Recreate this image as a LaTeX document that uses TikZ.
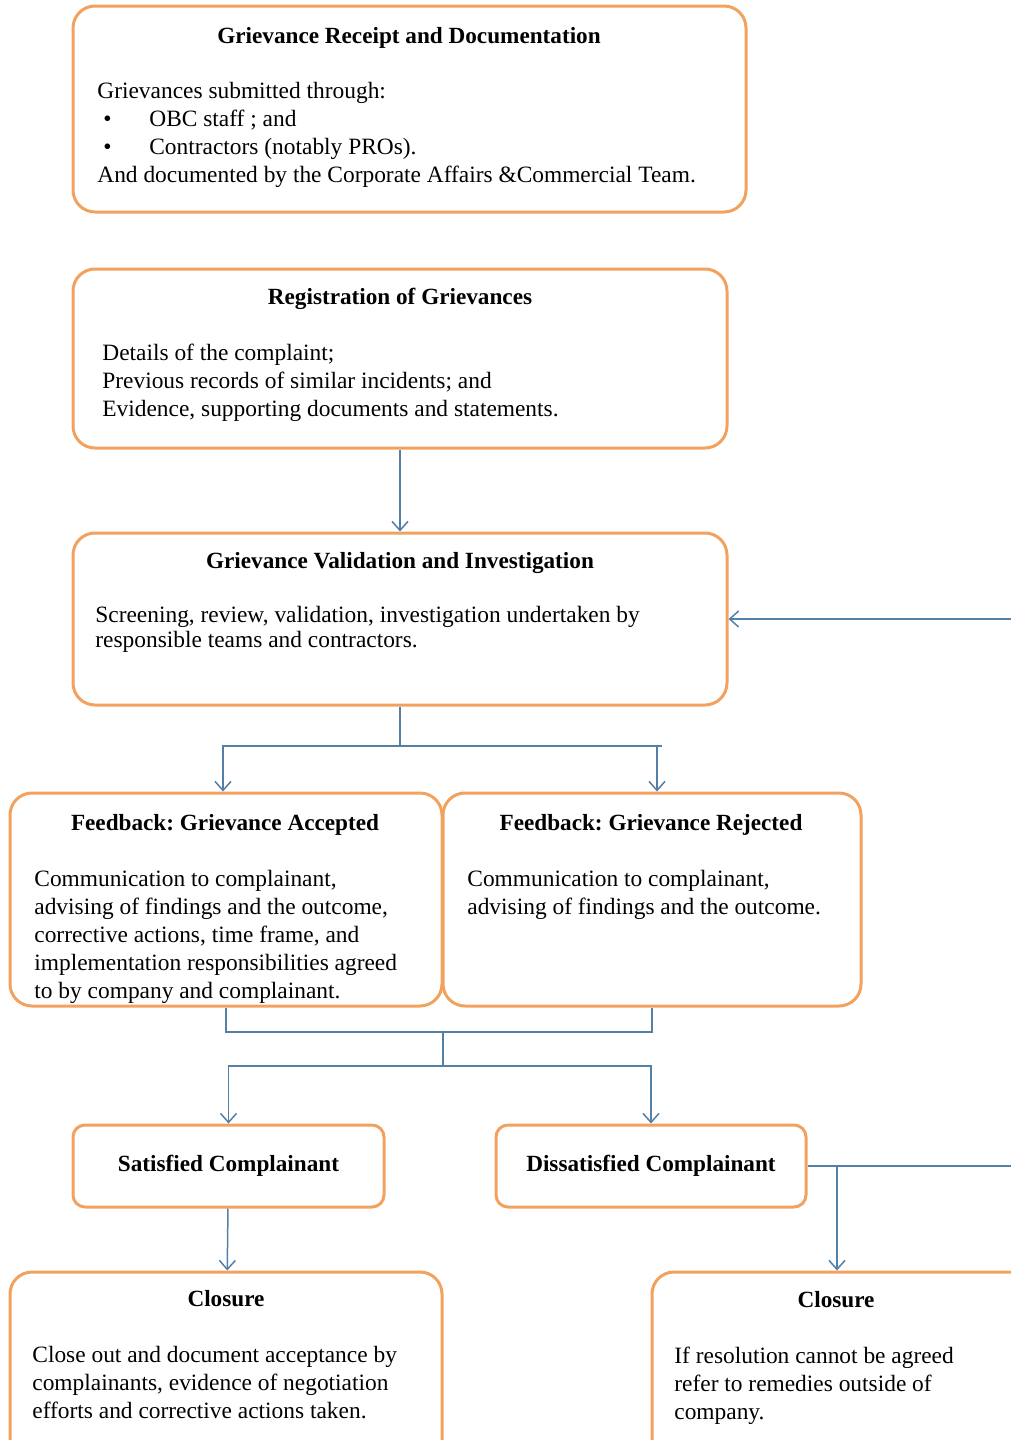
\documentclass[tikz,border=0pt]{standalone}
\usepackage{fontspec}
\setmainfont{Liberation Serif}
\usepackage{tikz}
\usetikzlibrary{arrows.meta, calc, positioning}
\definecolor{boxorange}{RGB}{242,162,94}
\definecolor{linkblue}{RGB}{84,128,168}
\tikzset{%
    box/.style={%
        rectangle,
        draw=boxorange,
        line width=1.5pt,
        rounded corners=11pt,
        inner sep=0pt,
    },
    smallbox/.style={%
        box,
        rounded corners=6pt,
        font=\fontsize{11.6}{14}\selectfont\bfseries,
    },
    title/.style={%
        anchor=base,
        inner sep=0pt,
        font=\fontsize{11.6}{14}\selectfont\bfseries,
    },
    body/.style={%
        % placed at the baseline of the last line
        anchor=base west,
        align=left,
        inner sep=0pt,
        font=\fontsize{11.7}{14}\selectfont,
    },
    link/.style={%
        draw=linkblue,
        line width=0.75pt,
    },
    edge/.style={%
        link,
        ->,
        >={Straight Barb[length=4.5pt, width=8pt]},
    },
}
\newcommand{\bulletitem}[1]{\hspace*{3pt}\makebox[23pt][l]{\textbullet}#1}
\frenchspacing

\begin{document}
\begin{tikzpicture}[x=0.5pt, y=-0.5pt]
	\useasboundingbox (0,0) rectangle (1011,1440);
	\clip (0,0) rectangle (1011,1440);

	% boxes
	\node [box, minimum width=336.5pt, minimum height=103pt] at (409.5,109) (receipt) {};
	\node [box, minimum width=327pt, minimum height=89.5pt] at (400,358.5) (registration) {};
	\node [box, minimum width=327pt, minimum height=86pt] at (400,619) (validation) {};
	\node [box, minimum width=216pt, minimum height=106.5pt] at (226,899.5) (accepted) {};
	\node [box, minimum width=209pt, minimum height=106.5pt] at (652,899.5) (rejected) {};
	\node [smallbox, minimum width=155.5pt, minimum height=41pt] at (228.5,1166) (satisfied) {Satisfied Complainant};
	\node [smallbox, minimum width=155pt, minimum height=41pt] at (651,1166) (dissatisfied) {Dissatisfied Complainant};
	\node [box, minimum width=216pt, minimum height=99pt] at (226,1371) (closure_ok) {};
	\node [box, minimum width=194pt, minimum height=99pt] at (846,1371) (closure_out) {};

	% texts
	\node [title] at (409,43) (receipt_title) {Grievance Receipt and Documentation};
	\node [body] at (97,182) (receipt_text) {Grievances submitted through:\\
		\bulletitem{OBC staff ; and}\\
		\bulletitem{Contractors (notably PROs).}\\
		And documented by the Corporate Affairs \&Commercial Team.};

	\node [title] at (400,304) (registration_title) {Registration of Grievances};
	\node [body] at (102,416) (registration_text) {Details of the complaint;\\
		Previous records of similar incidents; and\\
		Evidence, supporting documents and statements.};

	\node [title] at (400,568) (validation_title) {Grievance Validation and Investigation};
	\node [body, font=\fontsize{11.7}{12.5}\selectfont] at (95,647) (validation_text) {Screening, review, validation, investigation undertaken by\\
		responsible teams and contractors.};

	\node [title] at (225,830) (accepted_title) {Feedback: Grievance Accepted};
	\node [body] at (34,998) (accepted_text) {Communication to complainant,\\
		advising of findings and the outcome,\\
		corrective actions, time frame, and\\
		implementation responsibilities agreed\\
		to by company and complainant.};

	\node [title] at (651,830) (rejected_title) {Feedback: Grievance Rejected};
	\node [body] at (467,914) (rejected_text) {Communication to complainant,\\
		advising of findings and the outcome.};

	\node [title] at (226,1306) (closure_ok_title) {Closure};
	\node [body] at (32,1418) (closure_ok_text) {Close out and document acceptance by\\
		complainants, evidence of negotiation\\
		efforts and corrective actions taken.};

	\node [title] at (836,1307) (closure_out_title) {Closure};
	\node [body] at (674,1419) (closure_out_text) {If resolution cannot be agreed\\
		refer to remedies outside of\\
		company.};

	% connectors
	\coordinate (split_feedback) at (400,746);
	\coordinate (feedback_end) at (662,746);
	\coordinate (merge_feedback) at (443,1032);
	\coordinate (split_outcome) at (443,1066);
	\coordinate (branch_closure) at (837,1166);
	\coordinate (loop_corner) at (1040,1166);

	\draw[edge] (registration) -- (validation);

	\draw[link] (validation) -- (split_feedback);
	\draw[edge] (split_feedback) -| ([xshift=-1.5pt]accepted.north);
	\draw[link] (split_feedback) -- (feedback_end);
	\draw[edge] (split_feedback) -| ([xshift=2.5pt]rejected.north);

	\draw[link] (accepted) |- (merge_feedback) -| (rejected);
	\draw[link] (merge_feedback) -- (split_outcome);
	\draw[edge] (split_outcome) -| (satisfied);
	\draw[edge] (split_outcome) -| (dissatisfied);

	\draw[edge] (satisfied) -- (closure_ok);
	\draw[edge] (branch_closure) -- (branch_closure |- closure_out.north);
	\draw[edge] (dissatisfied) -- (loop_corner) |- (validation);
\end{tikzpicture}
\end{document}
